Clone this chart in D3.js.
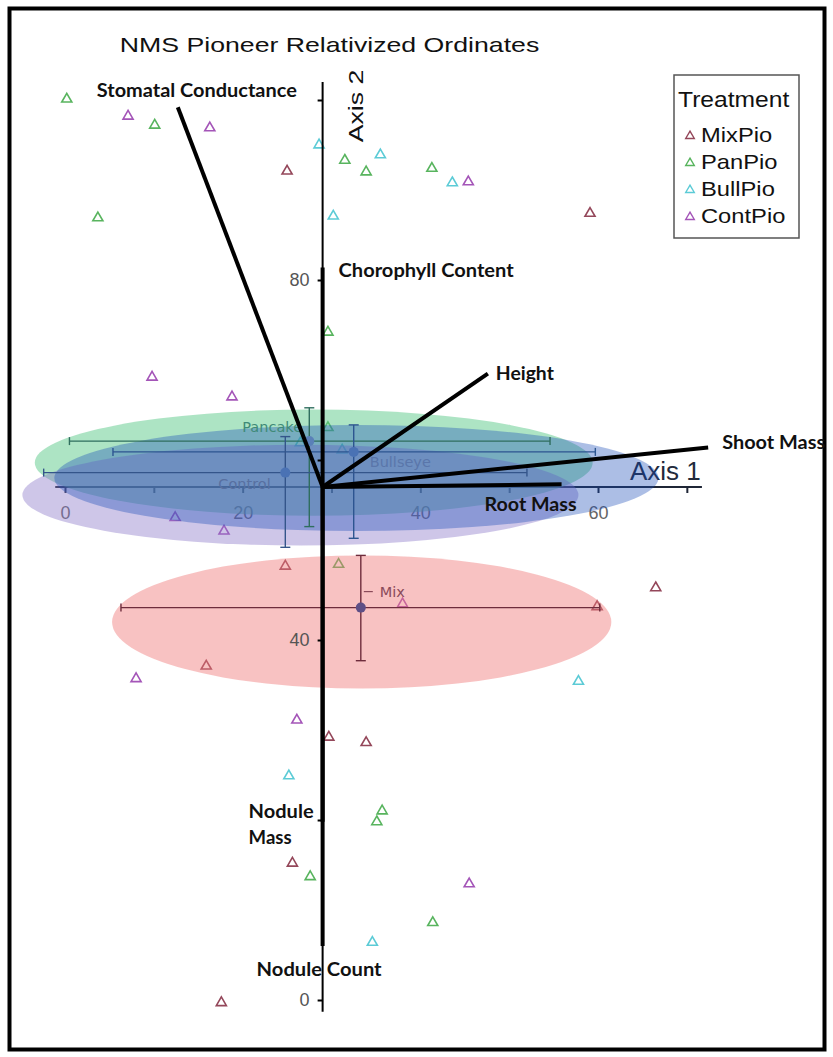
<!DOCTYPE html>
<html><head><meta charset="utf-8">
<script src="https://cdn.jsdelivr.net/npm/d3@7"></script>
<style>body{margin:0;background:#fff}svg{display:block}</style>
</head><body>
<svg id="chart" width="833" height="1057"></svg>
<script>
// ---- ordination scores (Axis 1, Axis 2) by treatment ----
const groups = ["MixPio", "PanPio", "BullPio", "ContPio"];
const groupColors = ["#94475a", "#58b45e", "#5ccbd6", "#a455b8"];

const mixX  = [25.0, 59.1, 24.8, 66.5, 59.9, 15.9, 29.7, 33.9, 25.6, 17.6];
const mixY  = [92.1, 87.4, 48.2, 45.8, 43.7, 37.1, 29.2, 28.6, 15.2, -0.3];
const panX  = [0.2, 10.1, 31.5, 33.9, 41.3, 3.7, 29.6, 29.6, 30.8, 35.7, 35.1, 27.6, 41.4];
const panY  = [100.1, 97.2, 93.3, 92.0, 92.4, 86.9, 74.2, 63.6, 48.4, 21.0, 19.8, 13.7, 8.6];
const bullX = [28.6, 35.5, 43.6, 30.2, 57.8, 25.2, 34.6, 26.5, 31.2];
const bullY = [95.0, 93.9, 90.8, 87.1, 35.4, 24.9, 6.4, 61.9, 61.1];
const contX = [7.1, 16.3, 45.4, 9.8, 18.8, 12.4, 17.9, 38.0, 8.0, 26.1, 45.5];
const contY = [98.2, 96.9, 90.9, 69.2, 67.0, 53.6, 52.1, 44.0, 35.7, 31.1, 12.9];

// ---- group confidence ellipses (drawn in this order) ----
const ellipseNames = ["Pancake", "Control", "Bullseye", "Mix"];
const ellipseCx = [28.0, 26.5, 32.8, 33.4];
const ellipseCy = [59.7, 56.1, 58.0, 42.0];
const ellipseRx = [31.4, 31.3, 34.0, 28.1];
const ellipseRy = [5.9, 5.6, 5.9, 7.4];

// ---- group centroids with error bars ----
const centroidNames = ["Pancake", "Bullseye", "Control", "Mix"];
const centroidX = [27.5, 32.5, 24.8, 33.3];
const centroidY = [62.1, 60.9, 58.6, 43.6];
const errXLow  = [0.5, 5.4, -2.4, 6.3];
const errXHigh = [54.6, 59.7, 52.0, 60.2];
const errYLow  = [52.6, 51.3, 50.3, 37.7];
const errYHigh = [65.8, 63.9, 62.6, 49.4];

// ---- joint-plot vectors (tips) ----
const vectorNames = ["Stomatal Conductance", "Chorophyll Content", "Height", "Shoot Mass", "Root Mass", "Nodule Mass", "Nodule Count"];
const vectorX = [12.7, 29.0, 47.6, 72.4, 55.9, 29.0, 29.0];
const vectorY = [99.2, 81.4, 69.6, 61.4, 57.3, 19.8, 6.0];
const vectorOrigin = [29.0, 57.0];

// ---- axes ----
const axis1Ticks = [0, 10, 20, 30, 40, 50, 60, 70];
const axis1Labels = ["0", "", "20", "", "40", "", "60", ""];
const axis1Extent = [-1.1, 71.7];
const axis2Ticks = [0, 20, 40, 60, 80, 100];
const axis2Labels = ["0", "", "40", "", "80", ""];
const axis2Extent = [-1.3, 102];

const svg = d3.select("#chart");
const x = d3.scaleLinear().domain([0, 60]).range([65, 598]);
const y = d3.scaleLinear().domain([0, 100]).range([1000, 100]);
const ox = x(vectorOrigin[0]), oy = y(vectorOrigin[1]);

svg.append("rect").attr("width", 833).attr("height", 1057).attr("fill", "#fff");
svg.append("rect").attr("x", 9.5).attr("y", 8.5).attr("width", 815).attr("height", 1041)
  .attr("fill", "none").attr("stroke", "#000").attr("stroke-width", 4);

// horizontally stretched text helper
function stext(g, str, tx, ty, opts) {
  const t = g.append("g").attr("transform",
    `translate(${tx},${ty})` + (opts.rot ? ` rotate(${opts.rot})` : "") + ` scale(${opts.sx || 1},1)`);
  return t.append("text").text(str)
    .attr("font-family", opts.family || "Liberation Sans, Arial, sans-serif")
    .attr("font-size", opts.size).attr("font-weight", opts.weight || "normal")
    .attr("fill", opts.fill || "#000").attr("text-anchor", opts.anchor || "start");
}

// title
stext(svg, "NMS Pioneer Relativized Ordinates", 329.5, 52, {size: 21, sx: 1.27, anchor: "middle", fill: "#111"});

// ---- Axis 1 ----
const ax1 = svg.append("g").attr("transform", `translate(0,${oy})`);
ax1.append("line").attr("x1", x(axis1Extent[0])).attr("x2", x(axis1Extent[1]))
  .attr("stroke", "#1f2636").attr("stroke-width", 2);
ax1.call(d3.axisBottom(x).tickValues(axis1Ticks).tickSize(6).tickPadding(13)
  .tickFormat((d, i) => axis1Labels[i]))
  .call(g => g.select(".domain").remove())
  .call(g => g.selectAll(".tick line").attr("stroke", "#1f2636").attr("stroke-width", 2))
  .call(g => g.selectAll(".tick text").attr("font-family", "Liberation Sans, Arial, sans-serif")
    .attr("font-size", 18).attr("fill", "#666"));
stext(svg, "Axis 1", 630, 480, {size: 25, sx: 1.04, fill: "#222a3c"});

// ---- sample points ----
const tri = d3.symbol().type(d3.symbolTriangle).size(44);
const pointSets = [[mixX, mixY], [panX, panY], [bullX, bullY], [contX, contY]];
pointSets.forEach((s, gi) => {
  svg.append("g").selectAll("path").data(s[0].map((v, i) => [v, s[1][i]])).join("path")
    .attr("d", tri).attr("transform", d => `translate(${x(d[0])},${y(d[1])})`)
    .attr("fill", "none").attr("stroke", groupColors[gi]).attr("stroke-width", 1.6);
});

// ---- ellipses ----
const ellipseFill = {Control: "#8a78c8", Pancake: "#5cc98a", Bullseye: "#1a4cb8", Mix: "#f07878"};
const ellipseOpacity = {Control: 0.42, Pancake: 0.5, Bullseye: 0.36, Mix: 0.45};
svg.append("g").selectAll("ellipse").data(ellipseNames).join("ellipse")
  .attr("cx", (d, i) => x(ellipseCx[i])).attr("cy", (d, i) => y(ellipseCy[i]))
  .attr("rx", (d, i) => x(ellipseCx[i] + ellipseRx[i]) - x(ellipseCx[i]))
  .attr("ry", (d, i) => y(ellipseCy[i] - ellipseRy[i]) - y(ellipseCy[i]))
  .attr("fill", d => ellipseFill[d]).attr("fill-opacity", d => ellipseOpacity[d]);

// ---- centroids and error bars ----
const barColor = {Pancake: "#2f6e5e", Bullseye: "#2d5590", Control: "#34558a", Mix: "#6e2c3c"};
const dotColor = {Pancake: "#5a80b8", Bullseye: "#4a72b4", Control: "#4a72b4", Mix: "#5e4f86"};
const labelColor = {Pancake: "#3f8a78", Bullseye: "#5a76aa", Control: "#5870a0", Mix: "#8a4b5a"};
const labelOffset = {Pancake: [-67, -9], Bullseye: [16, 15], Control: [-67, 16], Mix: [19, -11]};
const cg = svg.append("g");
centroidNames.forEach((n, i) => {
  const cx = x(centroidX[i]), cy = y(centroidY[i]);
  const xl = x(errXLow[i]), xh = x(errXHigh[i]);
  const yl = y(errYLow[i]), yh = y(errYHigh[i]);
  const g = cg.append("g").attr("stroke", barColor[n]).attr("stroke-width", 1.4);
  g.append("line").attr("x1", xl).attr("x2", xh).attr("y1", cy).attr("y2", cy);
  g.append("line").attr("x1", xl).attr("x2", xl).attr("y1", cy - 4).attr("y2", cy + 4);
  g.append("line").attr("x1", xh).attr("x2", xh).attr("y1", cy - 4).attr("y2", cy + 4);
  g.append("line").attr("x1", cx).attr("x2", cx).attr("y1", yl).attr("y2", yh);
  g.append("line").attr("x1", cx - 5).attr("x2", cx + 5).attr("y1", yl).attr("y2", yl);
  g.append("line").attr("x1", cx - 5).attr("x2", cx + 5).attr("y1", yh).attr("y2", yh);
  cg.append("circle").attr("cx", cx).attr("cy", cy).attr("r", 5).attr("fill", dotColor[n]);
  cg.append("text").text(n).attr("x", cx + labelOffset[n][0]).attr("y", cy + labelOffset[n][1])
    .attr("font-family", "DejaVu Sans, Verdana, sans-serif").attr("font-size", 14.5)
    .attr("fill", labelColor[n]);
  if (n === "Mix") {
    cg.append("line").attr("x1", cx + 3).attr("x2", cx + 12)
      .attr("y1", cy + labelOffset[n][1] - 5).attr("y2", cy + labelOffset[n][1] - 5)
      .attr("stroke", labelColor[n]).attr("stroke-width", 1.2);
  }
});

// ---- Axis 2 ----
const ax2 = svg.append("g").attr("transform", `translate(${ox},0)`);
ax2.append("line").attr("y1", y(axis2Extent[0])).attr("y2", y(axis2Extent[1]))
  .attr("stroke", "#000").attr("stroke-width", 2);
ax2.call(d3.axisLeft(y).tickValues(axis2Ticks).tickSize(5).tickPadding(8)
  .tickFormat((d, i) => axis2Labels[i]))
  .call(g => g.select(".domain").remove())
  .call(g => g.selectAll(".tick line").attr("stroke", "#000").attr("stroke-width", 2))
  .call(g => g.selectAll(".tick text").attr("font-family", "Liberation Sans, Arial, sans-serif")
    .attr("font-size", 18).attr("fill", "#555"));
stext(svg, "Axis 2", 363, 106, {size: 21, sx: 1.27, rot: -90, anchor: "middle", fill: "#111"});

// ---- vectors ----
const vg = svg.append("g");
vg.selectAll("line").data(vectorNames).join("line")
  .attr("x1", ox).attr("y1", oy)
  .attr("x2", (d, i) => x(vectorX[i])).attr("y2", (d, i) => y(vectorY[i]))
  .attr("stroke", "#000").attr("stroke-width", 4).attr("stroke-linecap", "butt");
// label placement relative to each vector tip; one entry per text line [text, dx, dy, width]
const vecLabel = {
  "Stomatal Conductance": [["Stomatal Conductance", -81, -10, 200]],
  "Chorophyll Content": [["Chorophyll Content", 16, 10, 175]],
  "Height": [["Height", 8, 6, 58]],
  "Shoot Mass": [["Shoot Mass", 14, 2, 103]],
  "Root Mass": [["Root Mass", -77, 27, 92]],
  "Nodule Mass": [["Nodule", -74, -4, 65], ["Mass", -74, 22, 43]],
  "Nodule Count": [["Nodule Count", -66, 30, 125]]
};
vectorNames.forEach((n, i) => {
  vecLabel[n].forEach(([s, dx, dy, w]) => {
    vg.append("text").text(s)
      .attr("x", x(vectorX[i]) + dx).attr("y", y(vectorY[i]) + dy)
      .attr("textLength", w).attr("lengthAdjust", "spacingAndGlyphs")
      .attr("font-family", "Lato, Open Sans, sans-serif").attr("font-weight", "bold")
      .attr("font-size", 18).attr("fill", "#111");
  });
});

// ---- legend ----
const lg = svg.append("g");
lg.append("rect").attr("x", 674).attr("y", 75).attr("width", 125).attr("height", 163)
  .attr("fill", "#fff").attr("stroke", "#555").attr("stroke-width", 1.5);
stext(lg, "Treatment", 678, 107, {size: 22, sx: 1.12, fill: "#111"});
const ltri = d3.symbol().type(d3.symbolTriangle).size(32);
groups.forEach((g, i) => {
  const by = 142 + i * 27;
  lg.append("path").attr("d", ltri).attr("transform", `translate(690,${by - 6})`)
    .attr("fill", "none").attr("stroke", groupColors[i]).attr("stroke-width", 1.4);
  stext(lg, g, 701, by, {size: 21, sx: 1.13, fill: "#111"});
});
</script>
</body></html>
